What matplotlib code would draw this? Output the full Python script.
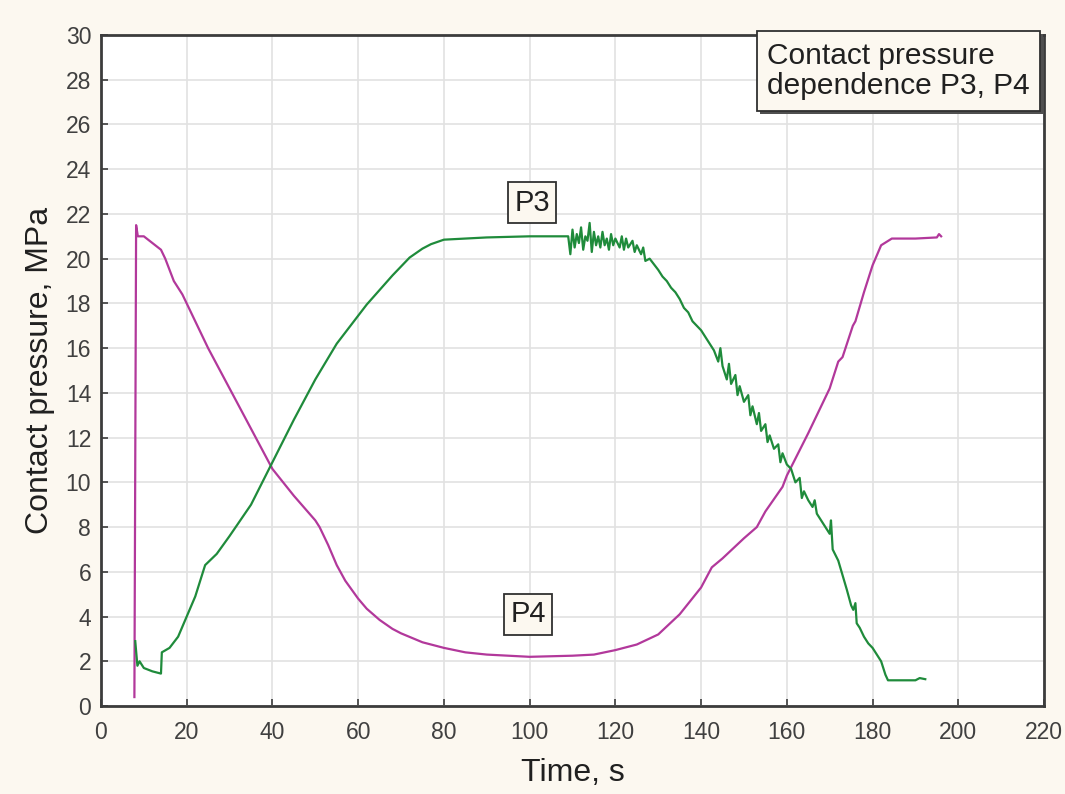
import numpy as np
import matplotlib
matplotlib.use("Agg")
import matplotlib.pyplot as plt
from matplotlib.patches import Rectangle

# Data
p4Time = [7.8, 8.2, 8.6, 9, 10, 12, 14, 15, 17, 19, 20, 22, 25, 30, 35, 40, 45, 50, 51, 53, 55, 57, 60,
          62, 65, 68, 70, 75, 80, 85, 90, 100, 110, 115, 120, 125, 130, 135, 140, 142.5, 145, 150, 153,
          155, 159, 160, 165, 170, 172, 173, 175.4, 176, 178, 180, 182, 184.5, 186, 190, 195, 195.5, 196]
p4Value = [0.4, 21.5, 21.0, 21.0, 21.0, 20.7, 20.4, 20.0, 19.0, 18.4, 18.0, 17.2, 16.0, 14.2, 12.4, 10.6,
           9.4, 8.3, 8.0, 7.2, 6.3, 5.6, 4.8, 4.35, 3.85, 3.45, 3.25, 2.85, 2.6, 2.4, 2.3, 2.2, 2.25, 2.3,
           2.5, 2.75, 3.2, 4.1, 5.3, 6.2, 6.6, 7.5, 8.0, 8.7, 9.8, 10.3, 12.2, 14.2, 15.4, 15.6, 17.0,
           17.2, 18.5, 19.7, 20.6, 20.9, 20.9, 20.9, 20.95, 21.1, 21.0]

p3Time = [8, 8.5, 9, 10, 12, 14, 14.2, 16, 18, 20, 22, 24.3, 27, 30, 35, 40, 45, 50, 55, 58, 62, 65, 68,
          70, 72, 75, 77, 80, 85, 90, 100, 108, 109, 109.5, 110, 110.5, 111, 111.5, 112, 112.5, 113,
          113.5, 114, 114.5, 115, 115.5, 116, 116.5, 117, 117.5, 118, 118.5, 119, 119.5, 120, 121, 121.5,
          122, 122.5, 123, 124, 124.5, 125, 126, 126.5, 127, 128, 130, 131, 132, 133, 134, 135, 136, 137,
          138, 139, 140, 141, 142, 143, 144, 144.5, 145, 146, 146.5, 147, 148, 148.5, 149, 150, 151,
          151.5, 152, 153, 153.5, 154, 155, 155.5, 156, 157, 158, 158.5, 159, 160, 161, 162, 163, 163.5,
          164, 165, 166, 166.5, 167, 168, 169, 170, 170.3, 170.7, 172, 174, 175, 175.5, 176, 176.3, 177,
          178, 179, 180, 181, 182, 183, 183.6, 185, 188, 190, 191, 192.3]
p3Value = [2.9, 1.8, 2.0, 1.7, 1.55, 1.45, 2.4, 2.6, 3.1, 4.0, 4.9, 6.3, 6.8, 7.6, 9.0, 10.9, 12.8, 14.6,
           16.2, 16.95, 17.95, 18.6, 19.25, 19.65, 20.05, 20.45, 20.65, 20.85, 20.9, 20.95, 21.0, 21.0,
           21.0, 20.2, 21.3, 20.5, 21.1, 20.7, 21.4, 20.4, 21.0, 20.8, 21.6, 20.3, 21.2, 20.6, 21.0, 20.5,
           21.2, 20.6, 20.9, 20.4, 21.1, 20.6, 20.9, 20.5, 21.0, 20.4, 20.9, 20.5, 20.8, 20.3, 20.6, 20.2,
           20.5, 19.9, 20.0, 19.5, 19.2, 19.0, 18.7, 18.5, 18.2, 17.8, 17.6, 17.2, 17.0, 16.8, 16.5, 16.2,
           15.9, 15.4, 16.0, 15.2, 14.6, 15.3, 14.4, 14.8, 13.9, 14.3, 13.6, 13.9, 13.0, 13.4, 12.6, 13.1,
           12.3, 12.6, 11.8, 12.1, 11.5, 11.7, 10.9, 11.3, 10.8, 10.6, 10.0, 10.2, 9.3, 9.6, 9.2, 8.9, 9.2,
           8.6, 8.3, 8.0, 7.7, 8.3, 7.0, 6.5, 5.2, 4.5, 4.3, 4.6, 3.7, 3.5, 3.1, 2.8, 2.6, 2.3, 2.0, 1.4,
           1.15, 1.15, 1.15, 1.15, 1.25, 1.2]

xTicks = list(range(0, 221, 20))
yTicks = list(range(0, 31, 2))

# Colours
bgColour = "#fcf8f0"
p3Colour = "#1f8b3b"
p4Colour = "#b2389b"
spineColour = "#3c3c3c"

plt.rcParams['font.family'] = ['Liberation Sans', 'DejaVu Sans']

fig = plt.figure(figsize=(10.65, 7.94), dpi=100, facecolor=bgColour)
ax = fig.add_axes([0.0948, 0.1108, 0.8855, 0.8451])
ax.set_facecolor("white")

ax.plot(p4Time, p4Value, color=p4Colour, linewidth=1.6)
ax.plot(p3Time, p3Value, color=p3Colour, linewidth=1.6)

ax.set_xlim(0, 220)
ax.set_ylim(0, 30)
ax.set_xticks(xTicks)
ax.set_yticks(yTicks)
ax.grid(True, color="#e2e2e2", linewidth=1.2)
ax.set_axisbelow(True)
ax.tick_params(direction="in", length=5, width=1.2, color=spineColour,
               labelsize=16.5, labelcolor="#404040", pad=7)
ax.tick_params(axis="x", pad=11)
for spine in ax.spines.values():
    spine.set_color(spineColour)
    spine.set_linewidth(2)

ax.set_xlabel("Time, s", fontsize=23, color="#202020", labelpad=10)
ax.set_ylabel("Contact pressure, MPa", fontsize=23, color="#202020", labelpad=8)

# Curve labels
boxStyle = dict(boxstyle="square,pad=0.22", facecolor=bgColour, edgecolor="#303030", linewidth=1.3)
ax.text(100.6, 22.5, "P3", fontsize=21, ha="center", va="center", color="#202020", bbox=boxStyle)
ax.text(99.6, 4.1, "P4", fontsize=21, ha="center", va="center", color="#202020", bbox=boxStyle)

# Title box in the top-right corner with a shadow
W, H = 1065.0, 794.0
shadow = Rectangle((760 / W, (794 - 114) / H), 283 / W, 80 / H, transform=fig.transFigure,
                   facecolor="#505050", edgecolor="none", zorder=4)
box = Rectangle((757 / W, (794 - 111) / H), 283 / W, 80 / H, transform=fig.transFigure,
                facecolor=bgColour, edgecolor="#303030", linewidth=1.3, zorder=5)
fig.patches.extend([shadow, box])
fig.text(767 / W, (794 - 71) / H, "Contact pressure\ndependence P3, P4", fontsize=21.5, ha="left",
         va="center", color="#202020", linespacing=1.1, zorder=6)

fig.savefig("out.png", dpi=100, facecolor=bgColour)
